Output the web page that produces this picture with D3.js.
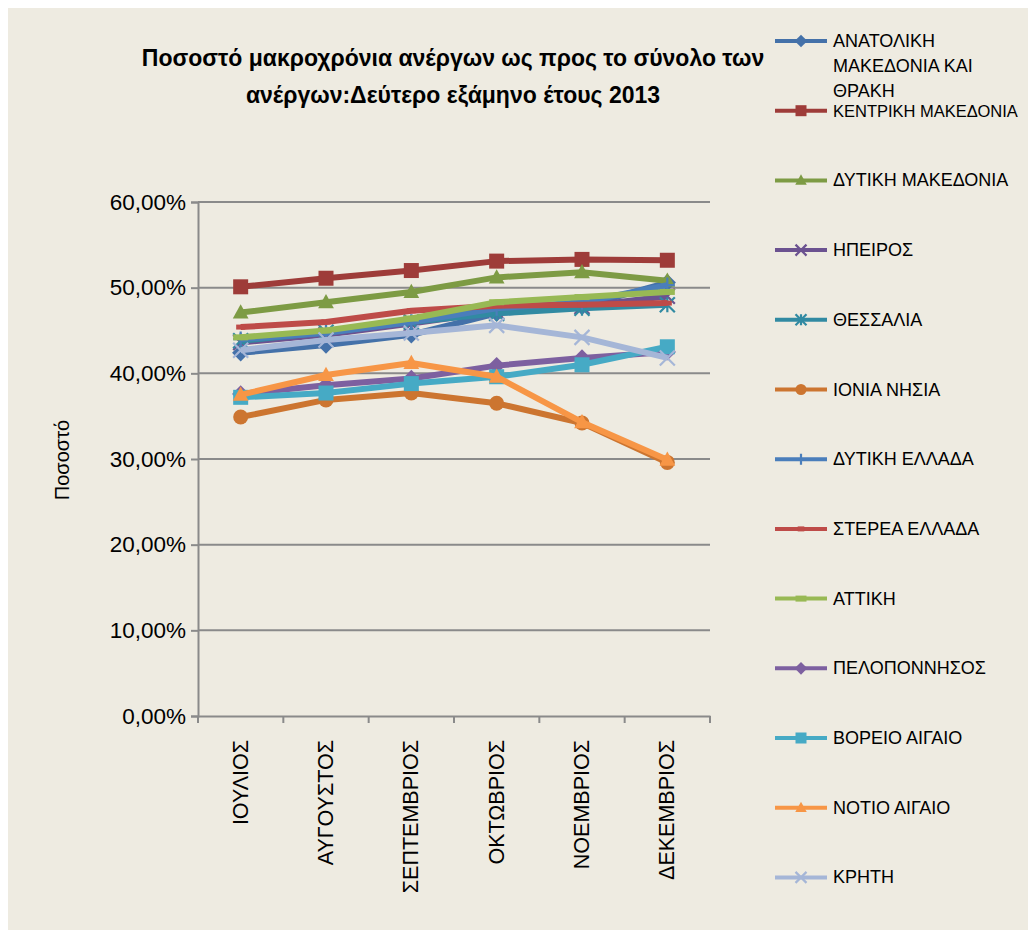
<!DOCTYPE html>
<html><head><meta charset="utf-8">
<script src="https://cdn.jsdelivr.net/npm/d3@7"></script>
<style>body{margin:0;background:#fff}svg{display:block}</style>
</head><body>
<script>
const months = ["ΙΟΥΛΙΟΣ","ΑΥΓΟΥΣΤΟΣ","ΣΕΠΤΕΜΒΡΙΟΣ","ΟΚΤΩΒΡΙΟΣ","ΝΟΕΜΒΡΙΟΣ","ΔΕΚΕΜΒΡΙΟΣ"];
const regions = ["ΑΝΑΤΟΛΙΚΗ ΜΑΚΕΔΟΝΙΑ ΚΑΙ ΘΡΑΚΗ","ΚΕΝΤΡΙΚΗ ΜΑΚΕΔΟΝΙΑ","ΔΥΤΙΚΗ ΜΑΚΕΔΟΝΙΑ","ΗΠΕΙΡΟΣ","ΘΕΣΣΑΛΙΑ","ΙΟΝΙΑ ΝΗΣΙΑ","ΔΥΤΙΚΗ ΕΛΛΑΔΑ","ΣΤΕΡΕΑ ΕΛΛΑΔΑ","ΑΤΤΙΚΗ","ΠΕΛΟΠΟΝΝΗΣΟΣ","ΒΟΡΕΙΟ ΑΙΓΑΙΟ","ΝΟΤΙΟ ΑΙΓΑΙΟ","ΚΡΗΤΗ"];
const anatolikiMakedonia = [42.4, 43.3, 44.5, 47.0, 47.8, 50.6];
const kentrikiMakedonia  = [50.1, 51.1, 52.0, 53.1, 53.3, 53.2];
const dytikiMakedonia    = [47.1, 48.3, 49.5, 51.2, 51.8, 50.8];
const ipeiros            = [43.6, 44.5, 45.8, 47.2, 47.8, 49.0];
const thessalia          = [43.8, 44.8, 46.0, 47.0, 47.6, 48.0];
const ioniaNisia         = [34.9, 36.9, 37.7, 36.5, 34.2, 29.6];
const dytikiEllada       = [44.0, 44.7, 46.0, 47.6, 48.3, 50.3];
const stereaEllada       = [45.4, 46.0, 47.3, 47.9, 48.0, 48.2];
const attiki             = [44.2, 45.0, 46.4, 48.3, 48.9, 49.5];
const peloponnisos       = [37.6, 38.6, 39.4, 40.9, 41.8, 42.5];
const voreioAigaio       = [37.2, 37.7, 38.8, 39.6, 41.0, 43.1];
const notioAigaio        = [37.5, 39.8, 41.2, 39.6, 34.3, 29.9];
const kriti              = [42.7, 43.9, 44.7, 45.6, 44.2, 41.8];
const seriesValues = [anatolikiMakedonia,kentrikiMakedonia,dytikiMakedonia,ipeiros,thessalia,ioniaNisia,dytikiEllada,stereaEllada,attiki,peloponnisos,voreioAigaio,notioAigaio,kriti];
const yTicks = [0,10,20,30,40,50,60];
const yTickLabels = ["0,00%","10,00%","20,00%","30,00%","40,00%","50,00%","60,00%"];
const titleLines = ["Ποσοστό μακροχρόνια ανέργων ως προς το σύνολο των","ανέργων:Δεύτερο εξάμηνο έτους 2013"];
const yAxisTitle = "Ποσοστό";

const colors = ["#4471A9","#9E3C39","#7D9B44","#6B5290","#318AA2","#CC7530","#4A7EBB","#BE4B48","#98B954","#7D60A0","#46AAC5","#F79646","#A5B6D7"];
const markers = ["diamond","square","triangle","x","star","circle","plus","dash","longdash","diamond","square","triangle","x"];

const W=1028,H=932;
const svg=d3.select("body").append("svg").attr("width",W).attr("height",H);
svg.append("rect").attr("x",8).attr("y",8).attr("width",W-8).attr("height",H-10).attr("fill","#EEEBE1");

const font="'Liberation Sans', Arial, sans-serif";
const x=d3.scaleBand().domain(months).range([198,710]);
const y=d3.scaleLinear().domain([0,60]).range([716,202]);

// gridlines
svg.append("g").selectAll("line").data(yTicks.slice(1)).join("line")
  .attr("x1",198).attr("x2",710).attr("y1",d=>y(d)).attr("y2",d=>y(d))
  .attr("stroke","#8A8A8A").attr("stroke-width",2);

// y axis
const yAx=svg.append("g").attr("transform","translate(198,0)")
  .call(d3.axisLeft(y).tickValues(yTicks).tickSize(7).tickPadding(5).tickFormat((d,i)=>yTickLabels[i]));
yAx.select(".domain").attr("stroke","#8A8A8A").attr("stroke-width",2);
yAx.selectAll(".tick line").attr("stroke","#8A8A8A").attr("stroke-width",2);
yAx.selectAll(".tick text").attr("font-family",font).attr("font-size",22.5).attr("fill","#000");

// x axis
const xAx=svg.append("g").attr("transform","translate(0,716)").call(d3.axisBottom(x).tickSize(0).tickPadding(0));
xAx.select(".domain").attr("stroke","#8A8A8A").attr("stroke-width",2);
xAx.selectAll(".tick text").remove();
const bounds=months.map(m=>x(m)).concat([710]);
svg.append("g").selectAll("line").data(bounds).join("line")
  .attr("x1",d=>d).attr("x2",d=>d).attr("y1",716).attr("y2",723)
  .attr("stroke","#8A8A8A").attr("stroke-width",2);
svg.append("g").selectAll("text").data(months).join("text")
  .attr("transform",d=>`translate(${x(d)+x.bandwidth()/2},740) rotate(-90)`)
  .attr("text-anchor","end").attr("dominant-baseline","central")
  .attr("font-family",font).attr("font-size",21.5).text(d=>d);

// y title
svg.append("text").attr("transform","translate(62,460) rotate(-90)")
  .attr("text-anchor","middle").attr("dominant-baseline","central")
  .attr("font-family",font).attr("font-size",20).text(yAxisTitle);

// title
svg.append("g").selectAll("text").data(titleLines).join("text")
  .attr("x",453).attr("y",(d,i)=>58+i*37).attr("text-anchor","middle").attr("dominant-baseline","central")
  .attr("font-family",font).attr("font-weight","bold").attr("font-size",23).text(d=>d);

function drawMarker(g,type,cx,cy,s,color){
  const h=s/2;
  if(type==="diamond") g.append("path").attr("d",`M${cx},${cy-h*1.15}L${cx+h*1.15},${cy}L${cx},${cy+h*1.15}L${cx-h*1.15},${cy}Z`).attr("fill",color);
  else if(type==="square") g.append("rect").attr("x",cx-h).attr("y",cy-h).attr("width",s).attr("height",s).attr("fill",color);
  else if(type==="triangle") g.append("path").attr("d",`M${cx},${cy-h*1.1}L${cx+h*1.05},${cy+h*0.8}L${cx-h*1.05},${cy+h*0.8}Z`).attr("fill",color);
  else if(type==="circle") g.append("circle").attr("cx",cx).attr("cy",cy).attr("r",h*1.0).attr("fill",color);
  else if(type==="x") g.append("path").attr("d",`M${cx-h},${cy-h}L${cx+h},${cy+h}M${cx-h},${cy+h}L${cx+h},${cy-h}`).attr("stroke",color).attr("stroke-width",2.2);
  else if(type==="star") g.append("path").attr("d",`M${cx-h},${cy-h}L${cx+h},${cy+h}M${cx-h},${cy+h}L${cx+h},${cy-h}M${cx},${cy-h}L${cx},${cy+h}`).attr("stroke",color).attr("stroke-width",2.2);
  else if(type==="plus") g.append("path").attr("d",`M${cx-h},${cy}L${cx+h},${cy}M${cx},${cy-h}L${cx},${cy+h}`).attr("stroke",color).attr("stroke-width",2.2);
  else if(type==="dash") g.append("rect").attr("x",cx-h*0.6).attr("y",cy-2.5).attr("width",s*0.6).attr("height",5).attr("fill",color);
  else if(type==="longdash") g.append("rect").attr("x",cx-h).attr("y",cy-3).attr("width",s).attr("height",6).attr("fill",color);
}

const line=d3.line().x((d,i)=>x(months[i])+x.bandwidth()/2).y(d=>y(d));
seriesValues.forEach((vals,si)=>{
  const g=svg.append("g");
  g.append("path").attr("d",line(vals)).attr("fill","none").attr("stroke",colors[si]).attr("stroke-width",6).attr("stroke-linejoin","round");
  vals.forEach((v,i)=>drawMarker(g,markers[si],x(months[i])+x.bandwidth()/2,y(v),15,colors[si]));
});

// legend
const lg=svg.append("g");
regions.forEach((r,i)=>{
  const cy=41+i*69.7;
  const g=lg.append("g");
  g.append("line").attr("x1",775).attr("x2",827).attr("y1",cy).attr("y2",cy).attr("stroke",colors[i]).attr("stroke-width",4);
  drawMarker(g,markers[i],801,cy,11,colors[i]);
  const lines = i===0 ? ["ΑΝΑΤΟΛΙΚΗ","ΜΑΚΕΔΟΝΙΑ ΚΑΙ","ΘΡΑΚΗ"] : [r];
  lines.forEach((t,j)=>{
    const tx=g.append("text").attr("x",833).attr("y",cy+j*25).attr("dominant-baseline","central")
      .attr("font-family",font).attr("font-size",18).text(t);
    const len=tx.node().getComputedTextLength();
    const avail=1018-833;
    if(len>avail) tx.attr("font-size",Math.floor(18*avail/len*10)/10);
  });
});
</script>
</body></html>
